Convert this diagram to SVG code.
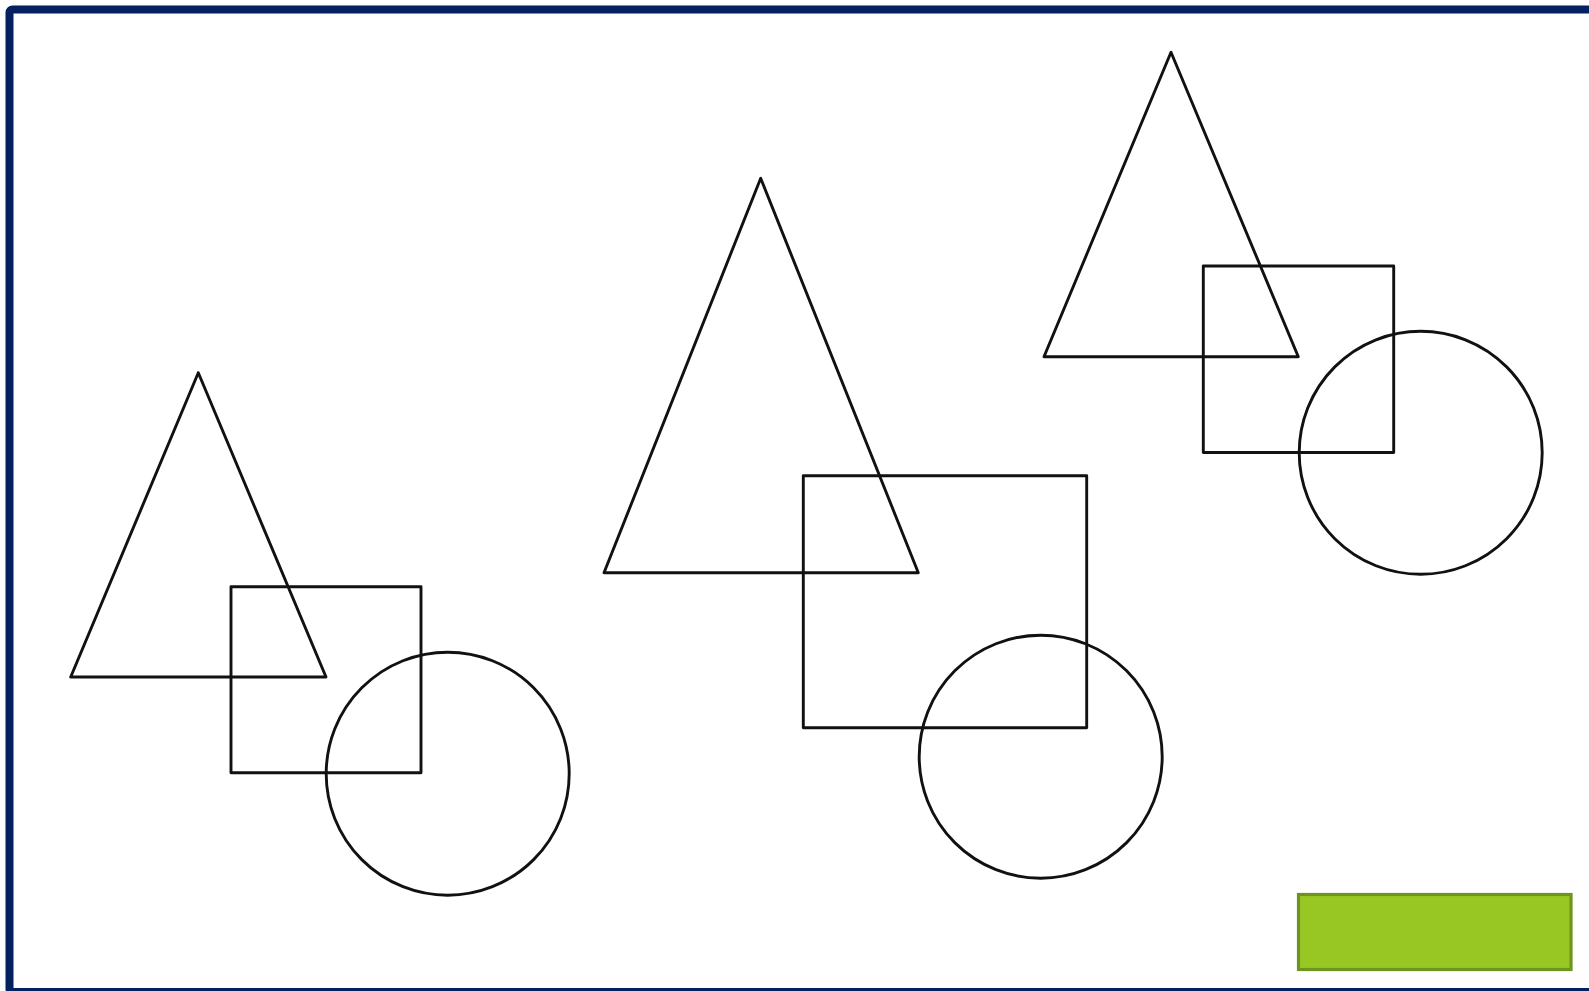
<svg xmlns="http://www.w3.org/2000/svg" width="1589" height="991" viewBox="0 0 1589 991">
<style>
.s{fill:none;stroke:#111;stroke-width:2.9;stroke-linejoin:round}
</style>
<rect x="0" y="0" width="1589" height="991" fill="#fff"/>
<g id="frame"><rect x="9.5" y="9.5" width="1600" height="982.5" rx="3" fill="none" stroke="#04215f" stroke-width="8"/></g>
<g id="group-left">
<polygon class="s" points="198.3,372.7 70.7,677 326,677"/>
<rect class="s" x="231" y="586.7" width="190" height="186"/>
<circle class="s" cx="447.7" cy="773.7" r="121.5"/>
</g>
<g id="group-middle">
<polygon class="s" points="760.7,178.3 604,572.7 918.3,572.7"/>
<rect class="s" x="803.3" y="475.7" width="283.4" height="252"/>
<circle class="s" cx="1040.7" cy="756.7" r="121.5"/>
</g>
<g id="group-right">
<polygon class="s" points="1171,52.3 1044,356.7 1298.3,356.7"/>
<rect class="s" x="1203.3" y="266" width="190.4" height="186.5"/>
<circle class="s" cx="1420.7" cy="452.8" r="121.5"/>
</g>
<g id="green-box"><rect x="1298.5" y="894.5" width="272.5" height="75" fill="#98c723" stroke="#6e9420" stroke-width="3.2"/></g>
<g id="connectors"></g>
</svg>
